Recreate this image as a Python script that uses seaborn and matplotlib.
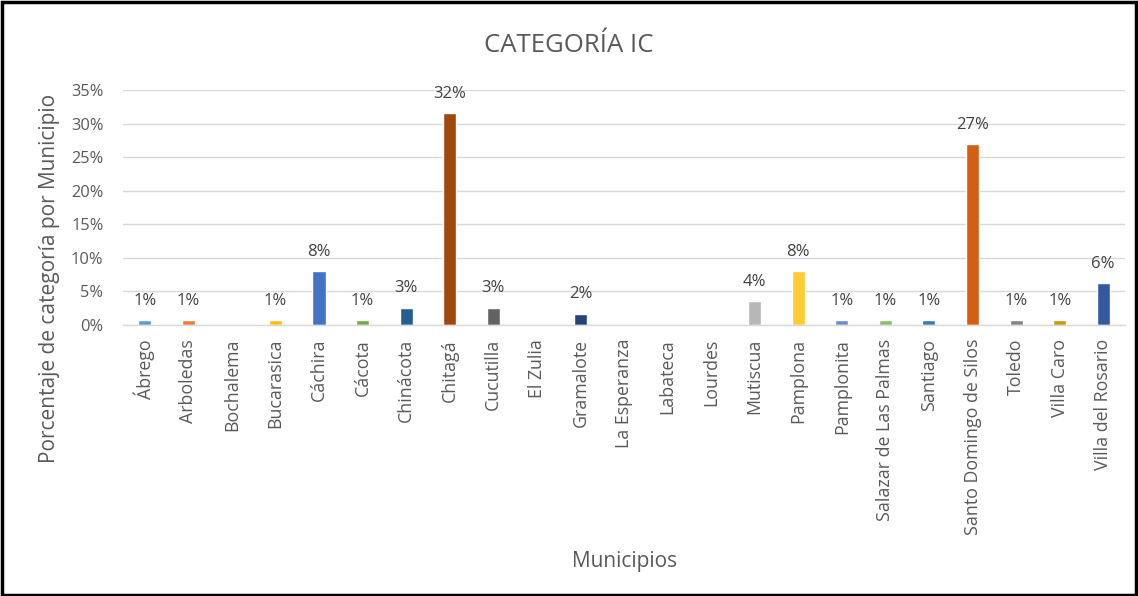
import matplotlib
matplotlib.use("Agg")
import matplotlib.pyplot as plt
import seaborn as sns
import pandas as pd
from matplotlib.patches import Rectangle
from matplotlib.ticker import FuncFormatter

municipios = ["Ábrego", "Arboledas", "Bochalema", "Bucarasica", "Cáchira", "Cácota",
              "Chinácota", "Chitagá", "Cucutilla", "El Zulia", "Gramalote", "La Esperanza",
              "Labateca", "Lourdes", "Mutiscua", "Pamplona", "Pamplonita",
              "Salazar de Las Palmas", "Santiago", "Santo Domingo de Silos", "Toledo",
              "Villa Caro", "Villa del Rosario"]
porcentajes = [0.7, 0.7, 0.0, 0.7, 8.1, 0.7, 2.6, 31.6, 2.6, 0.0, 1.7, 0.0,
               0.0, 0.0, 3.6, 8.1, 0.7, 0.7, 0.7, 26.9, 0.7, 0.7, 6.2]
colores = ["#5B9BD5", "#ED7D31", "#A5A5A5", "#FFC000", "#4472C4", "#70AD47",
           "#255E91", "#9E480E", "#636363", "#997300", "#264478", "#43682B",
           "#7CAFDD", "#F1975A", "#B7B7B7", "#FFCD33", "#698ED0", "#8CC168",
           "#327DC2", "#D26012", "#848484", "#CC9A00", "#335AA1"]
yticks = [0, 5, 10, 15, 20, 25, 30, 35]

sns.set_theme(style="white")
plt.rcParams["font.family"] = ["Open Sans", "DejaVu Sans"]

df = pd.DataFrame({"Municipio": municipios, "Porcentaje": porcentajes})

fig = plt.figure(figsize=(11.38, 5.96), dpi=100)
ax = fig.add_axes([0.108, 0.4547, 0.8806, 0.3943])

sns.barplot(data=df, x="Municipio", y="Porcentaje", hue="Municipio",
            palette=dict(zip(municipios, colores)), width=0.3, dodge=False,
            legend=False, ax=ax, saturation=1)

for cont, v in zip(ax.containers, porcentajes):
    ax.bar_label(cont, labels=[f"{v:.0f}%" if v > 0 else ""], padding=8,
                 fontsize=12, color="#404040")

ax.set_ylim(0, 35)
ax.set_yticks(yticks)
ax.yaxis.set_major_formatter(FuncFormatter(lambda v, p: f"{v:.0f}%"))
ax.grid(axis="y", color="#D9D9D9", linewidth=1)
ax.set_axisbelow(True)
for s in ["top", "right", "left"]:
    ax.spines[s].set_visible(False)
ax.spines["bottom"].set_color("#D9D9D9")
ax.spines["bottom"].set_linewidth(1)

ax.tick_params(axis="x", length=0, pad=10, labelsize=12.8, labelcolor="#595959",
               labelrotation=90)
ax.tick_params(axis="y", length=0, pad=14, labelsize=11.8, labelcolor="#595959")

ax.set_xlabel("Municipios", fontsize=15, color="#595959")
ax.set_ylabel("Porcentaje de categoría por Municipio", fontsize=15, color="#595959")
ax.xaxis.set_label_coords(0.501, -0.96)
ax.yaxis.set_label_coords(-0.063, 0.2)

fig.text(0.5, 0.924, "CATEGORÍA IC", ha="center", va="center",
         fontsize=18.5, color="#595959")

fig.patches.append(Rectangle((0.002, 0.002), 0.996, 0.994, transform=fig.transFigure,
                             fill=False, edgecolor="black", linewidth=2.5))

fig.savefig("out.png", dpi=100)
